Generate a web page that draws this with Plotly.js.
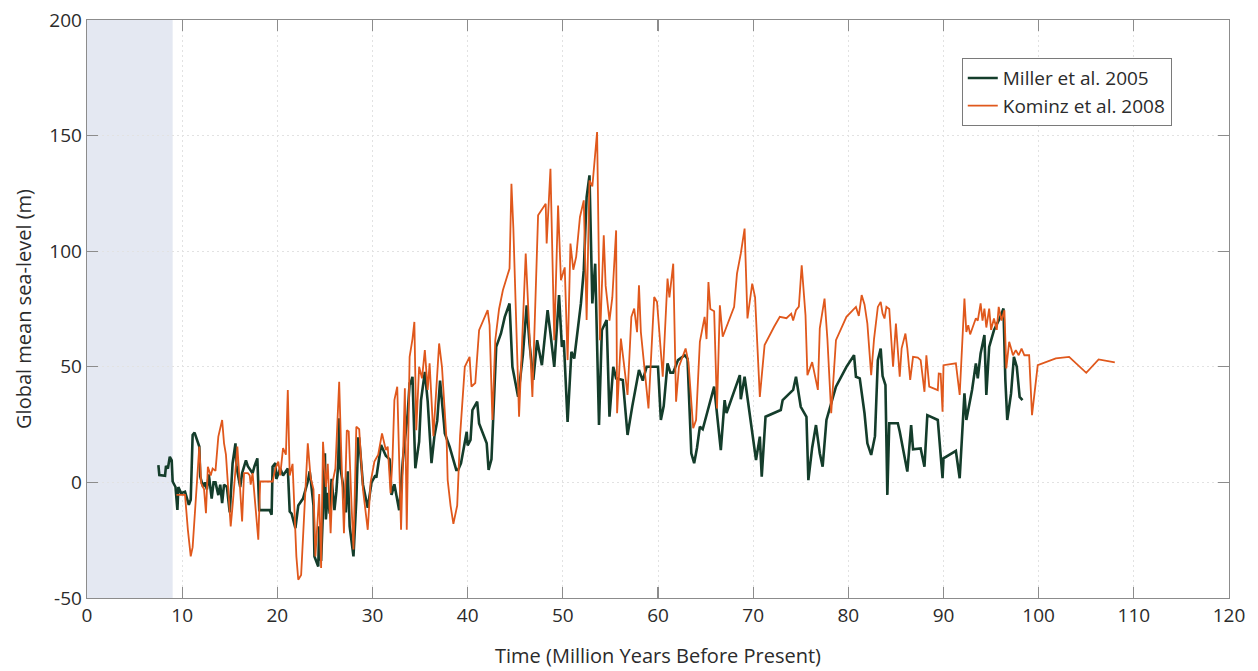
<!DOCTYPE html>
<html>
<head>
<meta charset="utf-8">
<script src="https://cdn.plot.ly/plotly-3.0.1.min.js"></script>
<style>
  html, body { margin: 0; padding: 0; background: #ffffff; }
  #chart { width: 1258px; height: 671px; }
</style>
</head>
<body>
<div id="chart"></div>
<script>
// Miller et al. 2005 global mean sea-level reconstruction (age in Ma, level in m)
const millerAge = [7.5,7.6,8.2,8.3,8.5,8.7,8.9,9.0,9.3,9.5,9.6,9.9,10.3,10.7,10.9,11.1,11.3,11.8,11.9,12.2,12.4,12.6,12.8,13.1,13.3,13.5,13.8,14.0,14.2,14.4,14.7,15.0,15.3,15.6,15.7,15.9,16.1,16.3,16.7,16.9,17.1,17.4,17.6,17.9,18.1,18.4,19.2,19.4,19.5,19.8,19.9,20.3,20.6,21.1,21.3,21.5,21.9,22.2,22.7,23.2,23.4,23.5,23.8,23.9,24.3,24.4,24.6,24.8,25.0,25.1,25.3,25.5,25.7,26.0,26.2,26.4,26.5,26.6,26.9,27.2,27.4,27.6,28.0,28.3,28.5,28.6,29.0,29.5,29.9,30.3,30.4,30.9,31.4,31.8,32.0,32.3,32.8,33.2,33.7,33.9,34.0,34.2,34.5,34.9,35.1,35.5,35.8,36.2,36.5,36.8,37.1,37.5,37.6,38.1,38.8,39.0,39.3,39.9,40.0,40.3,40.5,41.0,41.2,42.0,42.2,42.5,43.0,43.5,43.9,44.4,44.7,45.3,45.8,46.2,46.5,46.9,47.3,47.8,48.4,48.7,49.1,49.6,49.9,50.1,50.5,50.9,51.2,51.9,52.2,52.5,52.8,53.1,53.4,53.8,54.1,54.6,54.9,55.3,55.6,56.3,56.8,57.3,58.0,58.4,58.8,60.0,60.3,60.6,61.0,61.3,61.6,62.1,62.8,63.1,63.5,63.8,64.1,64.4,64.7,65.9,66.2,66.6,67.0,67.2,68.6,68.7,69.1,69.6,70.3,70.7,70.9,71.3,72.9,73.1,74.2,74.5,75.0,75.6,75.8,76.2,76.6,77.0,77.3,77.7,78.7,79.8,80.6,80.8,81.2,81.7,82.0,82.4,82.8,83.1,83.4,83.6,83.9,84.1,84.3,85.2,85.4,86.2,86.6,86.8,87.6,88.0,88.3,89.4,89.9,90.0,91.3,91.7,92.2,92.4,93.0,93.4,93.6,93.9,94.3,94.5,94.8,95.3,95.9,96.3,96.5,96.7,97.1,97.4,97.7,98.0,98.3];
const millerLevel = [7.5,3.2,2.9,7.1,6,11.1,9.5,0.4,-2,-11.9,-2,-4.7,-4,-9.7,-7.5,20.5,21.5,15.5,2.5,-2,0,-3,3.5,-7,0,0,-5.5,-1,-9,-1,-2,-13,8.3,16.9,7,2,-2,4,9.5,7,6,4,7,10.4,-12,-12,-12,-14,6.8,8.4,1.5,6,3,6,-12.6,-13.5,-19.8,-10,-7,0.4,4.8,1.5,-10,-32,-36.4,-19,-34,-12,12.6,-16,-4.5,-13.5,1.5,-12,-4,8.3,27.7,7,-1,-13,4.8,-19,-32,-7.5,19,19,-1,-11,0,3,2,16.2,11.5,10,-5.4,-0.8,-12,10,30,42.8,42.8,45.7,6.1,17.6,35.6,47.8,35,8.3,19.8,26.6,44,26,21.2,15.5,5.4,5.4,8.3,21.9,16,18.4,31.3,34.9,25.5,16.9,5.4,10,58.6,64.4,71.6,77.4,50,37,55,76.6,60,44.3,61.5,50.7,74.5,64.4,50,81,58.6,61.5,26.2,56.5,53.6,77.4,91.8,123.4,132.8,77.4,94.6,24.8,65.8,70.2,28.4,50,45,44.3,20.5,33,48.6,44,50,50,27,33,51.5,47.5,47.5,52.9,55,53.5,12.6,8.3,15,24.1,23,41.4,30,14,35.6,30,46.4,36,45.7,30,9.7,19.8,2.5,28.4,31.3,35.6,40,45.7,32.7,28.4,1,15,24.8,12.6,6.8,27,41.4,50,55,45.7,45,29.9,16.9,11.9,20,52.9,57.9,46,42.1,-5.4,25.6,25.6,22,4.7,24.8,14.3,14.7,6.8,29.1,27,1.8,10.4,13.6,1.8,38.5,27,40,51.5,45,55.8,63.7,37.8,58.6,65.8,70.9,75.2,44.3,27,38.5,54.3,50,37,35.6];

// Kominz et al. 2008 global mean sea-level reconstruction (age in Ma, level in m)
const kominzAge = [9.4,10.3,10.6,10.9,11.1,11.5,11.8,12.0,12.3,12.5,12.7,13.0,13.2,13.5,13.8,14.2,14.4,14.6,15.1,15.3,15.6,15.8,16.0,16.3,16.5,16.9,17.1,17.2,17.4,18.0,18.2,19.5,19.8,20.1,20.3,20.6,20.9,21.1,21.3,21.6,22.0,22.2,22.5,22.8,23.0,23.2,23.5,23.8,24.0,24.4,24.6,24.8,25.1,25.3,25.6,25.8,26.1,26.3,26.5,26.7,27.0,27.3,27.5,27.8,28.0,28.3,28.6,29.0,29.5,29.8,30.2,30.6,31.0,31.4,31.6,31.9,32.1,32.3,32.6,32.8,33.0,33.4,33.6,33.9,34.2,34.4,34.6,34.9,35.2,35.5,35.8,36.0,36.4,36.7,37.0,37.3,37.8,37.9,38.2,38.5,38.9,39.2,39.7,40.2,40.4,40.8,41.2,42.1,42.3,42.6,42.9,43.3,43.7,44.4,44.6,44.8,45.4,46.1,46.4,46.8,47.4,48.2,48.3,48.7,49.1,49.5,49.8,50.2,50.5,50.8,51.1,51.4,51.8,52.2,52.5,52.8,53.1,53.6,53.9,54.3,54.5,54.9,55.2,55.6,55.7,56.1,56.4,56.8,57.2,57.5,57.8,58.0,58.2,58.6,59.0,59.6,59.9,60.5,61.0,61.2,61.6,61.9,62.2,62.9,63.2,63.7,64.0,64.4,64.9,65.1,65.3,65.5,65.9,66.2,66.5,66.8,68.0,68.3,68.7,69.1,69.2,69.4,69.9,70.2,70.7,71.2,72.2,72.8,73.5,74.0,74.2,74.5,74.8,75.1,75.5,75.7,76.2,76.8,77.0,77.5,77.8,78.2,78.7,79.8,80.8,81.1,81.4,81.7,82.0,82.4,82.7,83.1,83.4,83.6,83.8,84.0,84.3,84.7,85.0,85.4,85.6,86.0,86.2,86.5,86.8,87.3,87.6,88.0,88.2,88.5,89.4,89.5,89.7,89.9,90.0,91.3,91.7,92.2,92.4,92.6,92.8,93.1,93.4,93.6,93.9,94.1,94.3,94.5,94.8,95.0,95.3,95.6,95.8,96.1,96.4,96.6,96.9,97.1,97.3,97.6,97.9,98.2,98.5,99.0,99.3,99.9,101.8,103.2,105.0,106.3,108.0];
const kominzLevel = [-5.4,-5.4,-20.5,-32,-28,-3.2,15.5,-0.4,-3,-13.3,6.8,3,6,5,19.8,27,16.9,12,-19,-10,5,15.5,3,-16.9,4,4,3,-1,4,-24.8,0.4,0.4,6,9,3,14.8,12,40,3,8,-32,-42.1,-40,-18,2,16.9,2,-3,-32,-5,-37,17.6,-2,8,-22,0,6,28.4,43.5,15,-22,22.6,22,-10,-29,24.1,23,-3,-20.5,0,9,12,21.2,14,15.5,-4.7,10,35.6,41.4,10,-20.5,40.7,-20.5,54.3,62,69.4,22.6,50,45,57.2,40,51.5,20,40,60.1,50,16.9,1,-10,-17.9,-10,20,50,54.3,41.4,43,65.8,74.5,68,27,61.5,75,83.1,92.5,129.2,110,28.4,99,75,37,115.5,120.5,103.3,135.6,61.5,119.8,87.4,93,52.9,103.3,92,97.5,114.8,122,70.2,130.6,128,151.5,61.5,106.9,85,70,80,109,29.9,62.2,52,37.8,71.6,75.2,65,85.3,65,47.8,32,80.2,78,45.7,88.2,80,94.6,34.9,50,57.9,52,23.4,27,60.8,71.6,62,86.7,75,74,32,76.6,63,75.9,90.3,99,109.8,99,70.9,86,80,37,59.4,67.3,71.6,71,73,70,74.5,76,93.9,72.3,46.4,52,40,66.6,79.5,62,29.9,61.5,71.6,75.9,72,81,77,68.7,46.4,62,75.9,78.1,73,70.9,75.9,75,50,68.7,45.7,58,64.4,58,44.3,54.3,54,52.9,39.2,55,41.4,39.9,47.1,47,30.6,50.7,51.5,37.8,79.5,65.1,68,64,67.3,71,70,77.4,70,75.2,67,75.2,66,70.9,66,75.9,70,74.5,49.3,60.8,58,55,57.2,55,57.9,55,55,29.1,50.7,53.6,54.3,47.4,53.2,51.9];

// Axis ticks and the shaded recent interval
const xTicks = [0,10,20,30,40,50,60,70,80,90,100,110,120];
const yTicks = [-50,0,50,100,150,200];
const shadedSpan = [0, 9];

const textColor = '#2b2b2b';
const axisColor = '#8c8c8c';
const fontFamily = '"Open Sans", sans-serif';

const traces = [
  {
    x: millerAge, y: millerLevel, type: 'scatter', mode: 'lines',
    name: 'Miller et al. 2005',
    line: { color: '#143d2b', width: 2.6 }
  },
  {
    x: kominzAge, y: kominzLevel, type: 'scatter', mode: 'lines',
    name: 'Kominz et al. 2008',
    line: { color: '#e0581c', width: 1.8 }
  }
];

const axisCommon = {
  showline: true, linecolor: axisColor, linewidth: 1.3,
  mirror: 'ticks', ticks: 'inside', ticklen: 11, tickcolor: axisColor, tickwidth: 1.3,
  showgrid: true, gridcolor: '#e2e2e2', griddash: '2px,3px', gridwidth: 1,
  zeroline: false,
  tickfont: { family: fontFamily, size: 19, color: textColor }
};

const layout = {
  width: 1258, height: 671,
  margin: { l: 87, r: 29, t: 20, b: 73 },
  paper_bgcolor: '#ffffff', plot_bgcolor: '#ffffff',
  showlegend: true,
  xaxis: Object.assign({}, axisCommon, {
    range: [0, 120], tickvals: xTicks, ticktext: xTicks.map(String),
    title: { text: 'Time (Million Years Before Present)', font: { family: fontFamily, size: 20, color: textColor }, standoff: 22 }
  }),
  yaxis: Object.assign({}, axisCommon, {
    range: [-50, 200], tickvals: yTicks, ticktext: yTicks.map(String),
    title: { text: 'Global mean sea-level (m)', font: { family: fontFamily, size: 20, color: textColor }, standoff: 12 }
  }),
  legend: {
    x: 0.766, y: 0.934, xanchor: 'left', yanchor: 'top',
    bgcolor: '#ffffff', bordercolor: '#7a7a7a', borderwidth: 1,
    font: { family: fontFamily, size: 19, color: textColor },
    itemwidth: 30, tracegroupgap: 0
  },
  shapes: [
    {
      type: 'rect', xref: 'x', yref: 'paper', layer: 'below',
      x0: shadedSpan[0], x1: shadedSpan[1], y0: 0, y1: 1,
      fillcolor: '#e4e8f2', line: { width: 0 }
    }
  ]
};

Plotly.newPlot('chart', traces, layout, { displayModeBar: false, staticPlot: true });
</script>
</body>
</html>
